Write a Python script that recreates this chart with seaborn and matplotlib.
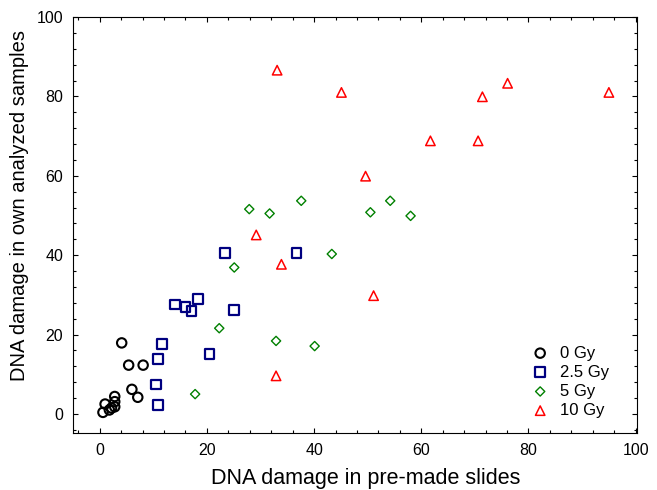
import pandas as pd
import matplotlib
matplotlib.use('Agg')
import matplotlib.pyplot as plt
import seaborn as sns
from matplotlib.ticker import MultipleLocator

# values
x_0gy = [4.1, 5.4, 8.1, 6.0, 7.1, 2.8, 2.8, 2.8, 1.0, 0.6, 1.8, 2.2]
y_0gy = [17.9, 12.3, 12.3, 6.2, 4.2, 4.4, 3.1, 1.8, 2.5, 0.4, 1.0, 1.5]

x_25gy = [11.6, 10.9, 20.5, 10.5, 10.9, 23.4, 36.7, 14.1, 16.0, 17.1, 18.3, 25.0]
y_25gy = [17.6, 13.9, 15.1, 7.4, 2.3, 40.5, 40.5, 27.6, 27.0, 26.0, 29.0, 26.2]

x_5gy = [17.8, 22.3, 25.1, 27.9, 31.7, 37.6, 32.9, 40.1, 43.3, 50.5, 54.2, 58.0]
y_5gy = [5.0, 21.6, 36.9, 51.6, 50.5, 53.7, 18.4, 17.1, 40.3, 50.8, 53.7, 49.9]

x_10gy = [33.1, 45.1, 71.4, 76.1, 95.0, 61.7, 70.6, 49.6, 29.2, 33.9, 51.1, 32.9]
y_10gy = [86.6, 81.0, 79.9, 83.3, 81.0, 68.8, 68.8, 59.9, 45.1, 37.7, 29.8, 9.6]

groups = ['0 Gy', '2.5 Gy', '5 Gy', '10 Gy']

df = pd.concat([
    pd.DataFrame({'pre': x_0gy, 'own': y_0gy, 'dose': '0 Gy'}),
    pd.DataFrame({'pre': x_25gy, 'own': y_25gy, 'dose': '2.5 Gy'}),
    pd.DataFrame({'pre': x_5gy, 'own': y_5gy, 'dose': '5 Gy'}),
    pd.DataFrame({'pre': x_10gy, 'own': y_10gy, 'dose': '10 Gy'}),
], ignore_index=True)

styles = {
    '0 Gy':   dict(marker='o', color='black',   s=46, lw=1.5),
    '2.5 Gy': dict(marker='s', color='#000080', s=48, lw=1.6),
    '5 Gy':   dict(marker='D', color='#008000', s=22, lw=1.0),
    '10 Gy':  dict(marker='^', color='#ff0000', s=46, lw=1.1),
}

sns.set_style('ticks')
plt.rcParams['font.family'] = ['Liberation Sans', 'DejaVu Sans']
plt.rcParams['text.color'] = 'black'
plt.rcParams['axes.labelcolor'] = 'black'

fig = plt.figure(figsize=(6.57, 4.9), dpi=100)
ax = fig.add_axes([0.111, 0.1163, 0.859, 0.849])

for g in groups:
    st = styles[g]
    sub = df[df['dose'] == g]
    sns.scatterplot(data=sub, x='pre', y='own', ax=ax, marker=st['marker'],
                    s=st['s'], facecolor='none', edgecolor=st['color'],
                    linewidth=st['lw'], label=g)

ax.set_xlim(-5, 100.3)
ax.set_ylim(-4.8, 100)
ax.xaxis.set_major_locator(MultipleLocator(20))
ax.yaxis.set_major_locator(MultipleLocator(20))
ax.xaxis.set_minor_locator(MultipleLocator(4))
ax.yaxis.set_minor_locator(MultipleLocator(4))
ax.tick_params(which='both', direction='in', top=True, right=True, colors='black')
ax.tick_params(which='major', length=3.5, width=0.8, labelsize=11.5, pad=7)
ax.tick_params(which='minor', length=2, width=0.8)
ax.tick_params(axis='x', which='major', pad=7.5)
for sp in ax.spines.values():
    sp.set_visible(True)
    sp.set_color('black')
    sp.set_linewidth(0.8)

ax.set_xlabel('DNA damage in pre-made slides', fontsize=15.5, color='black')
ax.set_ylabel('DNA damage in own analyzed samples', fontsize=14.5, color='black')
ax.xaxis.set_label_coords(0.518, -0.083)
ax.yaxis.set_label_coords(-0.077, 0.546)

leg = ax.legend(loc='lower right', bbox_to_anchor=(0.977, 0.0), frameon=False,
                fontsize=12, labelspacing=0.25, handletextpad=0.6, handlelength=1.2)
for t in leg.get_texts():
    t.set_color('black')

fig.savefig('out.png', dpi=100)
